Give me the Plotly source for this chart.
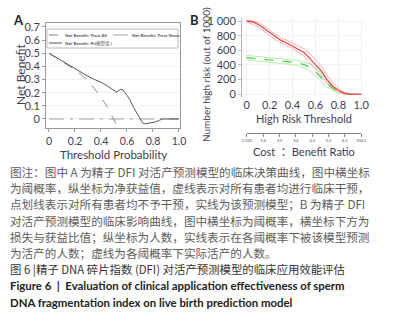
import plotly.graph_objects as go

W, H = 402, 324
def px(x): return x / W
def py(y): return 1 - y / H

# ---------- Panel A data (decision curve) ----------
a_thr_model = [0, 0.05, 0.1, 0.15, 0.2, 0.25, 0.3, 0.35, 0.4, 0.45, 0.5, 0.52, 0.55, 0.57,
               0.6, 0.62, 0.65, 0.68, 0.7, 0.72, 0.74, 0.76, 0.78, 0.8, 0.82, 0.85, 0.87, 0.9, 0.95, 1.0]
a_nb_model = [0.50, 0.47, 0.44, 0.41, 0.38, 0.35, 0.325, 0.30, 0.28, 0.25, 0.22, 0.205, 0.225, 0.22,
              0.18, 0.15, 0.09, 0.04, 0.005, -0.03, -0.037, -0.033, -0.028, -0.027, -0.022, -0.01, 0.0, 0.0, 0.0, 0.0]
a_thr_all = [0, 0.1, 0.2, 0.25, 0.3, 0.35, 0.4, 0.45, 0.5, 0.52]
a_nb_all = [0.50, 0.44, 0.375, 0.335, 0.29, 0.23, 0.165, 0.09, 0.0, -0.045]
a_thr_none = [0, 1.0]
a_nb_none = [0, 0]

# ---------- Panel B data (clinical impact) ----------
b_thr = [0, 0.05, 0.1, 0.15, 0.2, 0.25, 0.3, 0.35, 0.4, 0.45, 0.5, 0.55, 0.6, 0.65, 0.7, 0.75, 0.8, 0.85, 0.9, 0.95, 1.0]
b_high = [1000, 990, 955, 900, 840, 780, 735, 700, 660, 620, 570, 490, 410, 320, 200, 110, 55, 15, 3, 0, 0]
b_high_up = [1000, 1000, 985, 935, 880, 820, 770, 735, 700, 665, 620, 560, 470, 390, 260, 160, 85, 30, 6, 1, 0]
b_high_lo = [990, 960, 920, 860, 800, 745, 705, 670, 625, 580, 520, 430, 350, 260, 150, 75, 30, 6, 1, 0, 0]
b_event = [500, 492, 485, 478, 470, 462, 455, 448, 440, 430, 405, 370, 310, 230, 150, 85, 35, 10, 2, 0, 0]
b_event_up = [530, 522, 515, 508, 500, 492, 485, 478, 470, 460, 440, 415, 370, 290, 200, 120, 60, 18, 4, 0, 0]
b_event_lo = [470, 462, 455, 448, 440, 432, 425, 415, 405, 390, 365, 320, 250, 170, 100, 50, 18, 4, 0, 0, 0]

cb_ticks = [0, 1/7, 2/7, 3/7, 4/7, 5/7, 6/7, 1]
cb_labels = ["1:100", "1:6", "2:5", "3:4", "4:3", "5:2", "6:1", "100:1"]

a_yticks = [0, 0.1, 0.2, 0.3, 0.4, 0.5, 0.6, 0.7]
a_ylabels = ["0", "0.1", "0.2", "0.3", "0.4", "0.5", "0.6", "0.7"]
ab_xticks = [0, 0.2, 0.4, 0.6, 0.8, 1.0]
ab_xlabels = ["0", "0.2", "0.4", "0.6", "0.8", "1.0"]
b_yticks = [0, 200, 400, 600, 800, 1000]
b_ylabels = ["0", "200", "400", "600", "800", "1 000"]

LAT = "Lato, 'Noto Sans CJK SC', sans-serif"
CJK = "'Noto Sans CJK SC', Lato, sans-serif"
TICKC = "#3e3e52"

fig = go.Figure()
# Panel A traces
fig.add_trace(go.Scatter(x=a_thr_none, y=a_nb_none, mode="lines", xaxis="x", yaxis="y",
                         line=dict(color="#a0a0a0", width=1, dash="longdashdot"), name="Net Benefit: Treat None"))
fig.add_trace(go.Scatter(x=a_thr_all, y=a_nb_all, mode="lines", xaxis="x", yaxis="y",
                         line=dict(color="#8a8a8a", width=1, dash="dash"), name="Net Benefit: Treat All"))
fig.add_trace(go.Scatter(x=a_thr_model, y=a_nb_model, mode="lines", xaxis="x", yaxis="y",
                         line=dict(color="#555555", width=1), name="Net Benefit: Pr(模型组)"))
# Panel B traces
for ys, col, dash, wd in [(b_event_up, "#b8f0a8", "solid", 1), (b_event_lo, "#b8f0a8", "solid", 1),
                          (b_high_up, "#f6b0b0", "solid", 1), (b_high_lo, "#f6b0b0", "solid", 1),
                          (b_event, "#3ccc3c", "dash", 1.1), (b_high, "#e8474a", "solid", 1.3)]:
    fig.add_trace(go.Scatter(x=b_thr, y=ys, mode="lines", xaxis="x2", yaxis="y2",
                             line=dict(color=col, width=wd, dash=dash)))
# carrier for cost:benefit axis (thin strip subplot)
fig.add_trace(go.Scatter(x=[0, 1], y=[0, 0], mode="lines", xaxis="x3", yaxis="y3",
                         line=dict(color="rgba(0,0,0,0)", width=0), hoverinfo="skip"))

fig.update_layout(
    width=W, height=H, margin=dict(l=0, r=0, t=0, b=0, autoexpand=False),
    paper_bgcolor="white", plot_bgcolor="white", showlegend=False,
    font=dict(family=LAT, size=11, color=TICKC),
    xaxis=dict(domain=[px(46), px(180)], range=[-0.023, 1.008], anchor="y", automargin=False,
               tickvals=ab_xticks, ticktext=ab_xlabels, ticks="outside", ticklen=3, tickcolor="#999",
               showline=True, linecolor="#999", mirror=True, showgrid=False, zeroline=False,
               tickfont=dict(size=10.5, color=TICKC)),
    yaxis=dict(domain=[py(128), py(23)], range=[-0.0685, 0.730], anchor="x", automargin=False,
               tickvals=a_yticks, ticktext=a_ylabels, ticks="outside", ticklen=3, tickcolor="#999",
               showline=True, linecolor="#999", mirror=True, showgrid=True, gridcolor="#f0f0f0",
               zeroline=False, tickfont=dict(size=11, color=TICKC)),
    xaxis2=dict(domain=[px(242), px(364)], range=[-0.041, 1.024], anchor="y2", automargin=False,
                tickvals=ab_xticks, ticktext=ab_xlabels, ticks="", showline=False,
                showgrid=True, gridcolor="#f0f0f0", zeroline=False,
                tickfont=dict(size=11, color=TICKC)),
    yaxis2=dict(domain=[py(97), py(18)], range=[-37, 1041], anchor="x2", automargin=False,
                tickvals=b_yticks, ticktext=b_ylabels, ticks="outside", ticklen=3, tickcolor="#bbb",
                showline=True, linecolor="#bbb", showgrid=True, gridcolor="#f3f3f3", zeroline=False,
                tickfont=dict(size=11, color=TICKC)),
    xaxis3=dict(domain=[px(246.7), px(361.3)], range=[0, 1], anchor="y3", automargin=False,
                tickvals=cb_ticks, ticktext=cb_labels, ticks="outside", ticklen=3, tickcolor="#888",
                showline=True, linecolor="#888", showgrid=False, zeroline=False,
                tickfont=dict(size=4, color="#555")),
    yaxis3=dict(domain=[py(133), py(132)], anchor="x3", visible=False, range=[0, 1]),
)

ann = []
def add(text, x, y, size=11, color=TICKC, xa="center", ya="middle", angle=0, family=LAT):
    ann.append(dict(text=text, x=px(x), y=py(y), xref="paper", yref="paper", showarrow=False,
                    xanchor=xa, yanchor=ya, textangle=angle, font=dict(size=size, color=color, family=family)))

add("<b>A</b>", 18, 20, size=13, color="#222")
add("<b>B</b>", 194, 20, size=13, color="#222")
add("Net Benefit", 20, 75, size=12, angle=-90)
add("Threshold Probability", 113, 154, size=11.5)
add("Number high risk (out of 1000)", 206, 75, size=10, angle=-90)
add("High Risk Threshold", 304, 118, size=11)
add("Cost  ：Benefit Ratio", 304, 151, size=11)

# manual legend of panel A
fig.add_shape(type="rect", xref="paper", yref="paper", x0=px(47), x1=px(178), y0=py(48), y1=py(29),
              line=dict(color="#aaaaaa", width=0.8), fillcolor="white", layer="above")
for (x0, x1, yy, dash, col) in [(49, 62, 35, "dash", "#8a8a8a"), (113, 129, 35, "longdashdot", "#a0a0a0"),
                                (49, 62, 43, "solid", "#555555")]:
    fig.add_shape(type="line", xref="paper", yref="paper", x0=px(x0), x1=px(x1), y0=py(yy), y1=py(yy),
                  line=dict(color=col, width=1, dash=dash), layer="above")
add("<b>Net Benefit: Treat All</b>", 63, 35, size=4.5, color="#555", xa="left")
add("<b>Net Benefit: Treat None</b>", 130, 35, size=4.5, color="#555", xa="left")
add("<b>Net Benefit: Pr(</b>模型组<b> )</b>", 63, 43, size=4.5, color="#555", xa="left")

# caption
CAPC = "#5c5c5c"
cap = [
    "图注：图中 A 为精子 DFI 对活产预测模型的临床决策曲线，图中横坐标",
    "为阈概率，纵坐标为净获益值，虚线表示对所有患者均进行临床干预，",
    "点划线表示对所有患者均不予干预，实线为该预测模型；B 为精子 DFI",
    "对活产预测模型的临床影响曲线，图中横坐标为阈概率，横坐标下方为",
    "损失与获益比值；纵坐标为人数，实线表示在各阈概率下被该模型预测",
    "为活产的人数；虚线为各阈概率下实际活产的人数。",
]
for i, t in enumerate(cap):
    add(t, 8, 172 + 16.2 * i, size=11.6, color=CAPC, xa="left", family=CJK)
add("图 6 |精子 DNA 碎片指数 (DFI) 对活产预测模型的临床应用效能评估", 8, 269, size=11.4, color="#333", xa="left", family=CJK)
add("<b>Figure 6  |  Evaluation of clinical application effectiveness of sperm</b>", 8, 285, size=11.4, color="#222", xa="left")
add("<b>DNA fragmentation index on live birth prediction model</b>", 8, 302, size=11.4, color="#222", xa="left")

fig.update_layout(annotations=ann)
fig.write_html("out.html", config={"displayModeBar": False},
               post_script="document.body.style.margin='0';document.body.style.overflow='hidden';")
